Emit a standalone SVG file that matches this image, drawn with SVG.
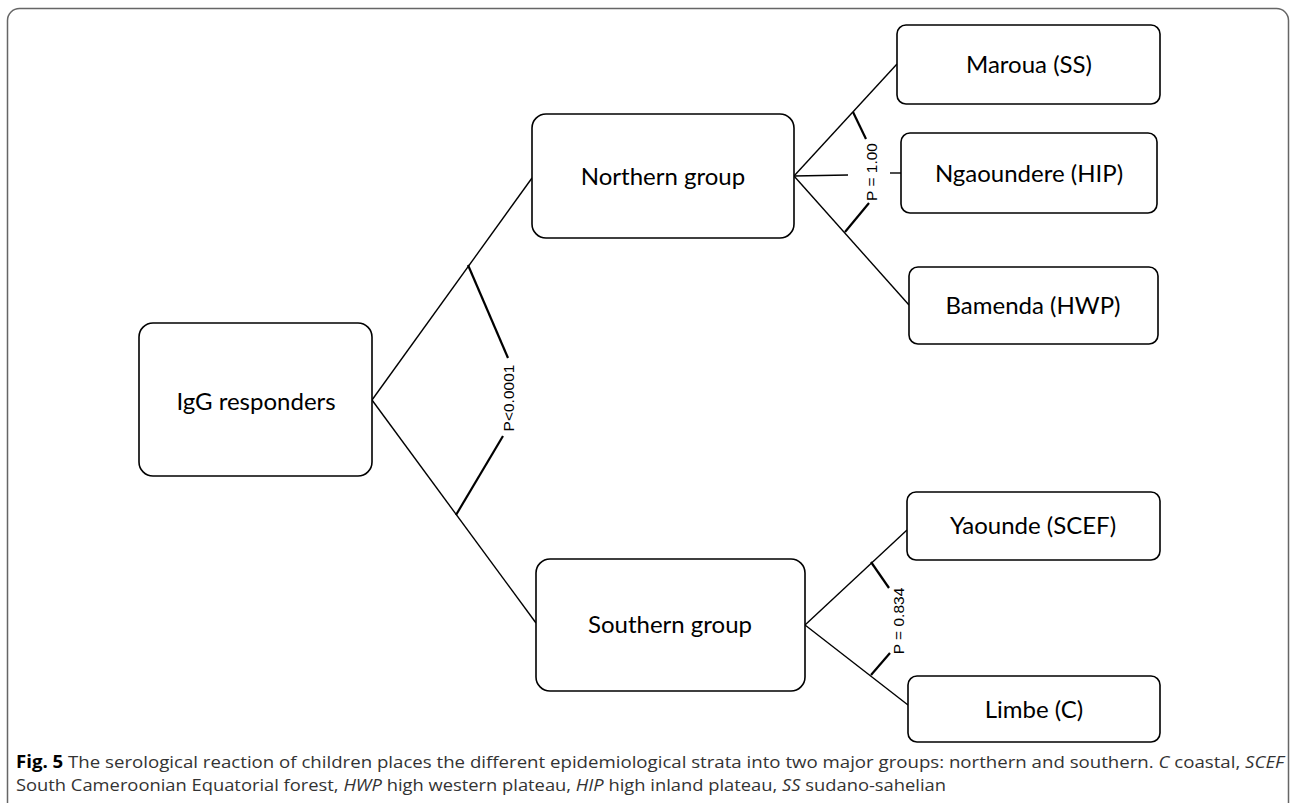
<svg xmlns="http://www.w3.org/2000/svg" width="1292" height="803" viewBox="0 0 1292 803">
<style>
.box{fill:#fff;stroke:#000;stroke-width:1.6}
.lbl{font-family:Lato,"Open Sans",sans-serif;font-size:24px;fill:#000;text-anchor:middle}
.ln{stroke:#000;stroke-width:1.4;fill:none}
.br{stroke:#000;stroke-width:2.2;fill:none}
.p{font-family:"Liberation Sans",Arial,sans-serif;font-size:15.5px;fill:#000;text-anchor:middle}
.cap{font-family:"Open Sans","Noto Sans",sans-serif;font-size:17px;fill:#333}
</style>
<rect width="1292" height="803" fill="#fff"/>
<rect x="7.5" y="8.5" width="1281" height="830" rx="12" fill="none" stroke="#666" stroke-width="1.5"/>
<g id="connectors">
<line class="ln" x1="372" y1="400" x2="532" y2="178"/>
<line class="ln" x1="372" y1="400" x2="536" y2="623"/>
<line class="br" x1="468" y1="265" x2="508" y2="358"/>
<line class="br" x1="456" y1="515" x2="503" y2="436"/>
<text class="p" transform="translate(514,398) rotate(-90)">P&lt;0.0001</text>
<line class="ln" x1="794" y1="176" x2="897" y2="64"/>
<line class="ln" x1="794" y1="176" x2="848" y2="175"/>
<line class="ln" x1="890" y1="173" x2="901" y2="173"/>
<line class="ln" x1="794" y1="176" x2="909" y2="305"/>
<line class="br" x1="853" y1="112" x2="866" y2="139"/>
<line class="br" x1="845" y1="232" x2="869" y2="203"/>
<text class="p" transform="translate(877,172) rotate(-90)">P = 1.00</text>
<line class="ln" x1="805" y1="625" x2="907" y2="530"/>
<line class="ln" x1="805" y1="625" x2="908" y2="705"/>
<line class="br" x1="871" y1="562" x2="889" y2="588"/>
<line class="br" x1="871" y1="675" x2="890" y2="653"/>
<text class="p" transform="translate(904,621) rotate(-90)">P = 0.834</text>
</g>
<g id="igg"><rect class="box" x="139" y="323" width="233" height="153" rx="14"/><text class="lbl" x="256" y="410">IgG responders</text></g>
<g id="northern"><rect class="box" x="532" y="114" width="262" height="124" rx="14"/><text class="lbl" x="663" y="185">Northern group</text></g>
<g id="southern"><rect class="box" x="536" y="559" width="269" height="132" rx="14"/><text class="lbl" x="670" y="633">Southern group</text></g>
<g id="maroua"><rect class="box" x="897" y="25" width="263" height="79" rx="9"/><text class="lbl" x="1029" y="73">Maroua (SS)</text></g>
<g id="ngaoundere"><rect class="box" x="901" y="133" width="256" height="80" rx="9"/><text class="lbl" x="1029" y="182">Ngaoundere (HIP)</text></g>
<g id="bamenda"><rect class="box" x="909" y="267" width="249" height="77" rx="9"/><text class="lbl" x="1033" y="314">Bamenda (HWP)</text></g>
<g id="yaounde"><rect class="box" x="907" y="492" width="253" height="68" rx="9"/><text class="lbl" x="1033" y="534">Yaounde (SCEF)</text></g>
<g id="limbe"><rect class="box" x="908" y="676" width="252" height="66" rx="9"/><text class="lbl" x="1034" y="718">Limbe (C)</text></g>
<g id="caption">
<text class="cap" x="16" y="768" textLength="1268" lengthAdjust="spacingAndGlyphs"><tspan font-weight="bold" fill="#000">Fig. 5</tspan>  The serological reaction of children places the different epidemiological strata into two major groups: northern and southern. <tspan font-style="italic">C</tspan> coastal, <tspan font-style="italic">SCEF</tspan></text>
<text class="cap" x="16" y="791" textLength="930" lengthAdjust="spacingAndGlyphs">South Cameroonian Equatorial forest, <tspan font-style="italic">HWP</tspan> high western plateau, <tspan font-style="italic">HIP</tspan> high inland plateau, <tspan font-style="italic">SS</tspan> sudano-sahelian</text>
</g>
</svg>
